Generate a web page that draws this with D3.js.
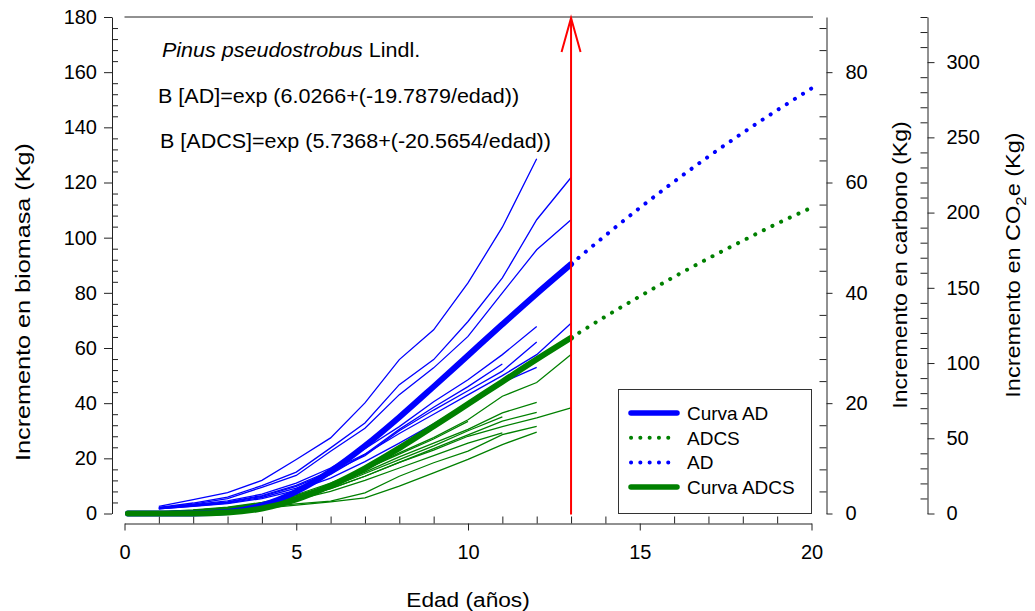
<!DOCTYPE html>
<html lang="es">
<head>
<meta charset="utf-8">
<title>Incremento en biomasa</title>
<script src="https://d3js.org/d3.v7.min.js"></script>
<style>
  body { margin: 0; background: #fff; }
  svg { display: block; font-family: "Liberation Sans", Arial, sans-serif; }
  .tick text { font-size: 20px; fill: #000; }
  .tick line, .domain { stroke: #222; }
</style>
</head>
<body>
<svg id="chart" width="1035" height="611"></svg>
<script>
// curvas ajustadas
const curveAges = [0.1, 1, 2, 3, 4, 5, 6, 7, 8, 9, 10, 11, 12, 13, 14, 15, 16, 17, 18, 19, 20];
const curvaAD   = [0, 0, 0.02, 0.57, 2.94, 7.92, 15.3, 24.5, 34.9, 46.0, 57.3, 68.6, 79.7, 90.4, 100.8, 110.8, 120.3, 129.4, 138.0, 146.2, 154.1];
const curvaADCS = [0, 0, 0.01, 0.33, 1.81, 5.07, 10.1, 16.4, 23.7, 31.6, 39.7, 47.8, 55.9, 63.7, 71.4, 78.7, 85.8, 92.5, 98.9, 105.1, 110.9];

// arboles individuales, edad 1, 2, 3 ...
const arbolesAD = [
  [2.6, 5.0, 7.6, 12.0, 19.6, 27.4, 40.1, 55.8, 66.6, 83.6, 103.8, 128.6],
  [2.2, 3.8, 5.9, 10.1, 15.0, 23.8, 32.8, 46.7, 55.8, 69.6, 85.4, 106.5, 121.8],
  [2.0, 3.4, 5.4, 9.5, 13.8, 22.6, 30.9, 43.1, 52.8, 64.2, 80.0, 95.6, 106.5],
  [1.9, 3.0, 4.2, 6.5, 10.2, 15.5, 21.5, 29.0, 36.0, 43.0, 50.0, 57.6, 69.0],
  [2.1, 3.2, 4.6, 7.0, 11.0, 16.5, 23.5, 31.5, 40.5, 48.5, 57.6, 67.8],
  [1.8, 2.9, 4.0, 6.2, 9.8, 15.0, 21.0, 30.0, 37.5, 44.5, 51.6, 62.2],
  [1.7, 2.7, 3.8, 5.8, 9.2, 14.2, 21.5, 30.5, 38.5, 46.0, 54.2],
  [1.7, 2.6, 3.6, 5.4, 8.4, 12.8, 18.8, 25.5, 32.5, 40.0, 47.5, 53.0]
];
const arbolesADCS = [
  [0.6, 1.3, 2.3, 4.0, 6.5, 10.5, 16.0, 22.0, 27.5, 34.0, 42.5, 47.5, 57.6],
  [0.5, 1.1, 2.0, 3.5, 6.0, 9.0, 13.5, 18.5, 23.0, 28.0, 31.5, 34.7, 38.3],
  [0.5, 1.1, 2.0, 3.6, 6.5, 10.0, 15.0, 20.5, 25.5, 30.5, 36.5, 40.3],
  [0.4, 1.0, 1.8, 3.3, 5.5, 9.0, 13.5, 18.5, 23.5, 28.5, 33.5, 36.7],
  [0.3, 0.7, 1.3, 2.3, 3.5, 4.5, 7.5, 13.5, 18.4, 22.6, 28.6, 31.6],
  [0.3, 0.6, 1.1, 1.9, 3.0, 4.2, 5.7, 9.9, 14.7, 19.6, 25.0, 29.5],
  [0.5, 1.1, 2.1, 3.8, 6.8, 11.0, 16.0, 21.5, 27.0, 33.4],
  [0.4, 0.9, 1.7, 3.0, 5.0, 8.0, 12.0, 16.5, 21.0, 25.5, 29.2],
  [0.4, 1.0, 1.9, 3.6, 6.0, 9.5, 14.5, 19.5, 24.5, 30.0, 35.0]
];

const xTicks = [0, 5, 10, 15, 20];
const yTicks = [0, 20, 40, 60, 80, 100, 120, 140, 160, 180];
const cTicks = [0, 20, 40, 60, 80];
const co2Ticks = [0, 50, 100, 150, 200, 250, 300];
const edadCorte = 13;

const legendItems = [
  {label: "Curva AD", color: "blue", dotted: false},
  {label: "ADCS", color: "green", dotted: true},
  {label: "AD", color: "blue", dotted: true},
  {label: "Curva ADCS", color: "green", dotted: false}
];

const svg = d3.select("#chart");
const x = d3.scaleLinear().domain([0, 20]).range([124.5, 811.5]);
const y = d3.scaleLinear().domain([0, 180]).range([513.5, 17]);
const yC = d3.scaleLinear().domain([0, 90]).range([513.5, 17]);
const yCO2 = d3.scaleLinear().domain([0, 90 * 44 / 12]).range([513.5, 17]);

function minors(step, max, majorStep) {
  return d3.range(0, max + 0.001, step).filter(v => Math.abs(v % majorStep) > 0.001);
}
function clean(g) { g.select(".domain").remove(); }

// eje izquierdo
svg.append("g").attr("transform", "translate(112,0)")
  .call(d3.axisLeft(y).tickValues(yTicks).tickSize(8).tickSizeOuter(0).tickPadding(7));
svg.append("g").attr("transform", "translate(112,0)")
  .call(d3.axisRight(y).tickValues(minors(4, 180, 20)).tickSize(6).tickFormat(""))
  .call(clean);

// eje x
svg.append("g").attr("transform", "translate(0,523.5)")
  .call(d3.axisBottom(x).tickValues(xTicks).tickSize(7).tickSizeOuter(0).tickPadding(14));
svg.append("g").attr("transform", "translate(0,523.5)")
  .call(d3.axisTop(x).tickValues(minors(1, 20, 5)).tickSize(7).tickFormat(""))
  .call(clean);

// eje carbono
svg.append("g").attr("transform", "translate(826.5,0)")
  .call(d3.axisRight(yC).tickValues(cTicks).tickSize(6).tickSizeOuter(0).tickPadding(13));
svg.append("g").attr("transform", "translate(826.5,0)")
  .call(d3.axisLeft(yC).tickValues(minors(4, 90, 20)).tickSize(7).tickFormat(""))
  .call(clean);

// eje CO2e
svg.append("g").attr("transform", "translate(927.5,0)")
  .call(d3.axisRight(yCO2).tickValues(co2Ticks).tickSize(7).tickSizeOuter(0).tickPadding(12));
svg.append("g").attr("transform", "translate(927.5,0)")
  .call(d3.axisLeft(yCO2).tickValues(minors(10, 330, 50)).tickSize(7).tickFormat(""))
  .call(clean);

// linea superior
svg.append("line").attr("x1", 124.5).attr("x2", 813).attr("y1", 17).attr("y2", 17)
  .attr("stroke", "#222");

// lineas individuales
const thin = d3.line().x((d, i) => x(i + 1)).y(d => y(d));
arbolesAD.forEach(s => svg.append("path").attr("d", thin(s))
  .attr("fill", "none").attr("stroke", "blue").attr("stroke-width", 1.3));
arbolesADCS.forEach(s => svg.append("path").attr("d", thin(s))
  .attr("fill", "none").attr("stroke", "green").attr("stroke-width", 1.3));

// curvas
const curve = d3.line().x(d => x(d[0])).y(d => y(d[1])).curve(d3.curveMonotoneX);
function drawCurve(vals, color) {
  const pts = curveAges.map((a, i) => [a, vals[i]]);
  svg.append("path").attr("d", curve(pts.filter(p => p[0] >= edadCorte)))
    .attr("fill", "none").attr("stroke", color).attr("stroke-width", 4)
    .attr("stroke-linecap", "round").attr("stroke-dasharray", "0.1 9.5");
  return pts;
}
const ptsAD = drawCurve(curvaAD, "blue");
const ptsADCS = drawCurve(curvaADCS, "green");
svg.append("path").attr("d", curve(ptsAD.filter(p => p[0] <= edadCorte)))
  .attr("fill", "none").attr("stroke", "blue").attr("stroke-width", 6).attr("stroke-linecap", "round");
svg.append("path").attr("d", curve(ptsADCS.filter(p => p[0] <= edadCorte)))
  .attr("fill", "none").attr("stroke", "green").attr("stroke-width", 6).attr("stroke-linecap", "round");

// flecha roja
const xr = x(edadCorte);
svg.append("line").attr("x1", xr).attr("x2", xr).attr("y1", y(0) + 1).attr("y2", 17.5)
  .attr("stroke", "red").attr("stroke-width", 2);
svg.append("path").attr("d", `M${xr - 9.5},52 L${xr},18 L${xr + 9.5},52`)
  .attr("fill", "none").attr("stroke", "red").attr("stroke-width", 2);

// textos (la figura original esta algo estirada)
const ann = svg.append("text").attr("transform", "translate(162,57) scale(1.05,1)").attr("font-size", 20.5);
ann.append("tspan").attr("font-style", "italic").text("Pinus pseudostrobus");
ann.append("tspan").text(" Lindl.");
svg.append("text").attr("transform", "translate(158,103) scale(1.05,1)").attr("font-size", 20.5)
  .text("B [AD]=exp (6.0266+(-19.7879/edad))");
svg.append("text").attr("transform", "translate(160,148) scale(1.05,1)").attr("font-size", 20.5)
  .text("B [ADCS]=exp (5.7368+(-20.5654/edad))");

// titulos de ejes
svg.append("text").attr("transform", "translate(468,607) scale(1.08,1)").attr("text-anchor", "middle")
  .attr("font-size", 21).text("Edad (años)");
svg.append("text").attr("transform", "translate(30,302) rotate(-90) scale(1.2,1)")
  .attr("text-anchor", "middle").attr("font-size", 21).text("Incremento en biomasa (Kg)");
svg.append("text").attr("transform", "translate(907,265) rotate(-90) scale(1.1,1)")
  .attr("text-anchor", "middle").attr("font-size", 21).text("Incremento en carbono (Kg)");
const co2 = svg.append("text").attr("transform", "translate(1020,265) rotate(-90) scale(1.12,1)")
  .attr("text-anchor", "middle").attr("font-size", 21);
co2.append("tspan").text("Incremento en CO");
co2.append("tspan").attr("font-size", 15).attr("dy", 6).text("2");
co2.append("tspan").attr("dy", -6).text("e (Kg)");

// leyenda
const lg = svg.append("g");
lg.append("rect").attr("x", 618.5).attr("y", 389.5).attr("width", 193).attr("height", 124)
  .attr("fill", "#fff").attr("stroke", "#333");
legendItems.forEach((d, i) => {
  const ly = 413 + i * 24.7;
  lg.append("line").attr("x1", 631).attr("x2", 677).attr("y1", ly).attr("y2", ly)
    .attr("stroke", d.color).attr("stroke-linecap", "round")
    .attr("stroke-width", d.dotted ? 4 : 5.5)
    .attr("stroke-dasharray", d.dotted ? "0.1 9.2" : null);
  lg.append("text").attr("x", 687).attr("y", ly + 7).attr("font-size", 19).text(d.label);
});
</script>
</body>
</html>
